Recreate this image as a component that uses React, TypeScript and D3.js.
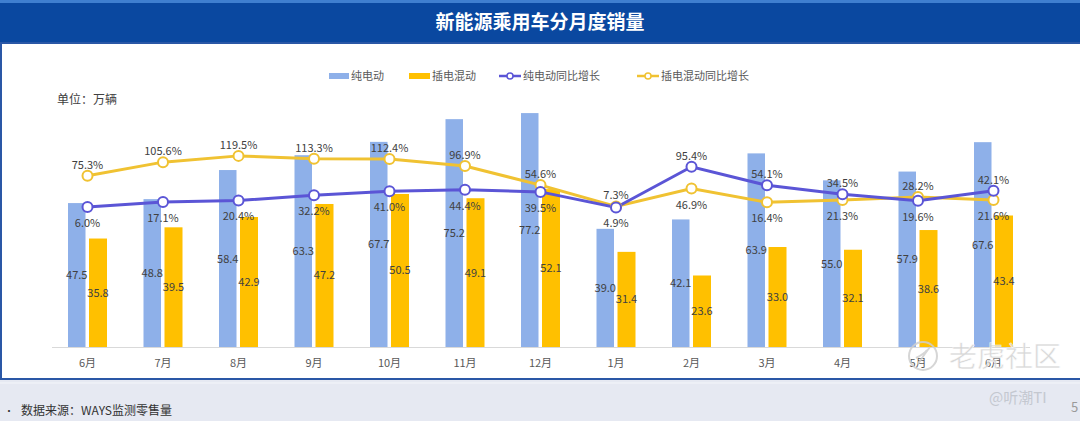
import React from "react";
import * as d3 from "d3";

const months = ["6月", "7月", "8月", "9月", "10月", "11月", "12月", "1月", "2月", "3月", "4月", "5月", "6月"];
const bevSales = [47.5, 48.8, 58.4, 63.3, 67.7, 75.2, 77.2, 39.0, 42.1, 63.9, 55.0, 57.9, 67.6];
const phevSales = [35.8, 39.5, 42.9, 47.2, 50.5, 49.1, 52.1, 31.4, 23.6, 33.0, 32.1, 38.6, 43.4];
const bevYoY = [6.0, 17.1, 20.4, 32.2, 41.0, 44.4, 39.5, 4.9, 95.4, 54.1, 34.5, 19.6, 42.1];
const phevYoY = [75.3, 105.6, 119.5, 113.3, 112.4, 96.9, 54.6, 7.3, 46.9, 16.4, 21.3, 28.2, 21.6];

const legendLabels = ["纯电动", "插电混动", "纯电动同比增长", "插电混动同比增长"];

const W = 1080;
const H = 421;
const FONT = "'Microsoft YaHei', 'Noto Sans CJK SC', sans-serif";
const BLUE_BAR = "#8eb0e9";
const YELLOW_BAR = "#ffc000";
const BLUE_LINE = "#5b55d6";
const YELLOW_LINE = "#f0c232";
const LABEL = "#404040";

export default function App() {
  const keys = months.map((m, i) => `${m}-${i}`);
  const x = d3.scaleBand<string>().domain(keys).range([49.75, 1031.25]).paddingInner(0).paddingOuter(0);
  const cx = (i: number) => (x(keys[i]) as number) + x.bandwidth() / 2;
  const y = d3.scaleLinear().domain([0, 100]).range([347, 44]);
  const yp = d3.scaleLinear().domain([-305, 368]).range([347, 44]);

  const lineGen = d3
    .line<number>()
    .x((_, i) => cx(i))
    .y((d) => yp(d));

  const barW = 17.5;

  return (
    <div style={{ position: "absolute", left: 0, top: 0 }}>
      <svg width={W} height={H} style={{ display: "block", fontFamily: FONT }}>
        {/* backgrounds */}
        <rect x={0} y={0} width={W} height={H} fill="#e6e9f2" />
        <rect x={0} y={0} width={W} height={3} fill="#3f7fd0" />
        <rect x={0} y={3} width={W} height={40} fill="#0a48a0" />
        <rect x={1} y={43} width={W + 4} height={336} fill="#ffffff" stroke="#2a57a6" strokeWidth={2} />
        <line x1={0} x2={W} y1={383} y2={383} stroke="#f4f6fa" strokeWidth={1} />
        <text x={540} y={29} textAnchor="middle" fill="#ffffff" fontSize={19} fontWeight="bold">
          新能源乘用车分月度销量
        </text>

        {/* legend */}
        <g fontSize={11} fill="#595959">
          <rect x={329} y={73} width={20} height={6} fill={BLUE_BAR} />
          <text x={351} y={80}>{legendLabels[0]}</text>
          <rect x={409} y={73} width={21} height={6} fill={YELLOW_BAR} />
          <text x={432} y={80}>{legendLabels[1]}</text>
          <line x1={499} x2={521} y1={76} y2={76} stroke={BLUE_LINE} strokeWidth={2.5} />
          <circle cx={510} cy={76} r={3} fill="#fff" stroke={BLUE_LINE} strokeWidth={1.5} />
          <text x={523} y={80}>{legendLabels[2]}</text>
          <line x1={637} x2={659} y1={76} y2={76} stroke={YELLOW_LINE} strokeWidth={2.5} />
          <circle cx={648} cy={76} r={3} fill="#fff" stroke={YELLOW_LINE} strokeWidth={1.5} />
          <text x={661} y={80}>{legendLabels[3]}</text>
        </g>

        <text x={57} y={104} fontSize={12} fill={LABEL}>
          单位：万辆
        </text>

        {/* axis line */}
        <line x1={52} x2={1030} y1={347.5} y2={347.5} stroke="#d9d9d9" strokeWidth={1} />

        {/* bars */}
        {bevSales.map((v, i) => (
          <rect key={`b${i}`} x={cx(i) - 19.5} y={y(v)} width={barW} height={y(0) - y(v)} fill={BLUE_BAR} />
        ))}
        {phevSales.map((v, i) => (
          <rect key={`p${i}`} x={cx(i) + 1.5} y={y(v)} width={barW + 0.5} height={y(0) - y(v)} fill={YELLOW_BAR} />
        ))}

        {/* bar labels */}
        <g fontSize={11} fill={LABEL} textAnchor="middle">
          {bevSales.map((v, i) => (
            <text key={`bl${i}`} x={cx(i) - 10.75} y={(y(v) + y(0)) / 2 + 4}>
              {v.toFixed(1)}
            </text>
          ))}
          {phevSales.map((v, i) => (
            <text key={`pl${i}`} x={cx(i) + 10.5} y={(y(v) + y(0)) / 2 + 4}>
              {v.toFixed(1)}
            </text>
          ))}
        </g>

        {/* month labels */}
        <g fontSize={11} fill="#595959" textAnchor="middle">
          {months.map((m, i) => (
            <text key={`m${i}`} x={cx(i)} y={367}>
              {m}
            </text>
          ))}
        </g>

        {/* lines */}
        <path d={lineGen(phevYoY) || ""} fill="none" stroke={YELLOW_LINE} strokeWidth={3} />
        <path d={lineGen(bevYoY) || ""} fill="none" stroke={BLUE_LINE} strokeWidth={3} />
        {phevYoY.map((v, i) => (
          <circle key={`pc${i}`} cx={cx(i)} cy={yp(v)} r={5} fill="#fff" stroke={YELLOW_LINE} strokeWidth={2} />
        ))}
        {bevYoY.map((v, i) => (
          <circle key={`bc${i}`} cx={cx(i)} cy={yp(v)} r={5} fill="#fff" stroke={BLUE_LINE} strokeWidth={2} />
        ))}

        {/* percent labels */}
        <g fontSize={11} fill={LABEL} textAnchor="middle">
          {bevYoY.map((v, i) => {
            const above = v > phevYoY[i];
            return (
              <text key={`bpl${i}`} x={cx(i)} y={yp(v) + (above ? -7 : 20)}>
                {v.toFixed(1)}%
              </text>
            );
          })}
          {phevYoY.map((v, i) => {
            const above = v >= bevYoY[i];
            return (
              <text key={`ppl${i}`} x={cx(i)} y={yp(v) + (above ? -7 : 20)}>
                {v.toFixed(1)}%
              </text>
            );
          })}
        </g>

        {/* watermark */}
        <g opacity={0.85}>
          <circle cx={923} cy={356} r={14} fill="none" stroke="#cfcfcf" strokeWidth={2} />
          <path d="M918,364 C922,358 926,352 930,347 M916,358 C920,356 924,354 927,350" fill="none" stroke="#cfcfcf" strokeWidth={2} />
          <text x={949} y={367} fontSize={28} fill="#d2d2d2" stroke="#ffffff" strokeWidth={0.5}>
            老虎社区
          </text>
        </g>

        {/* footer */}
        <text x={4} y={415} fontSize={10} fill="#333">
          •
        </text>
        <text x={21} y={415} fontSize={12} fill="#333">
          数据来源：WAYS监测零售量
        </text>
        <text x={989} y={403} fontSize={15} fill="#c4c8d0">
          @听潮TI
        </text>
        <text x={1071} y={412} fontSize={13} fill="#9a9a9a">
          5
        </text>
      </svg>
    </div>
  );
}
